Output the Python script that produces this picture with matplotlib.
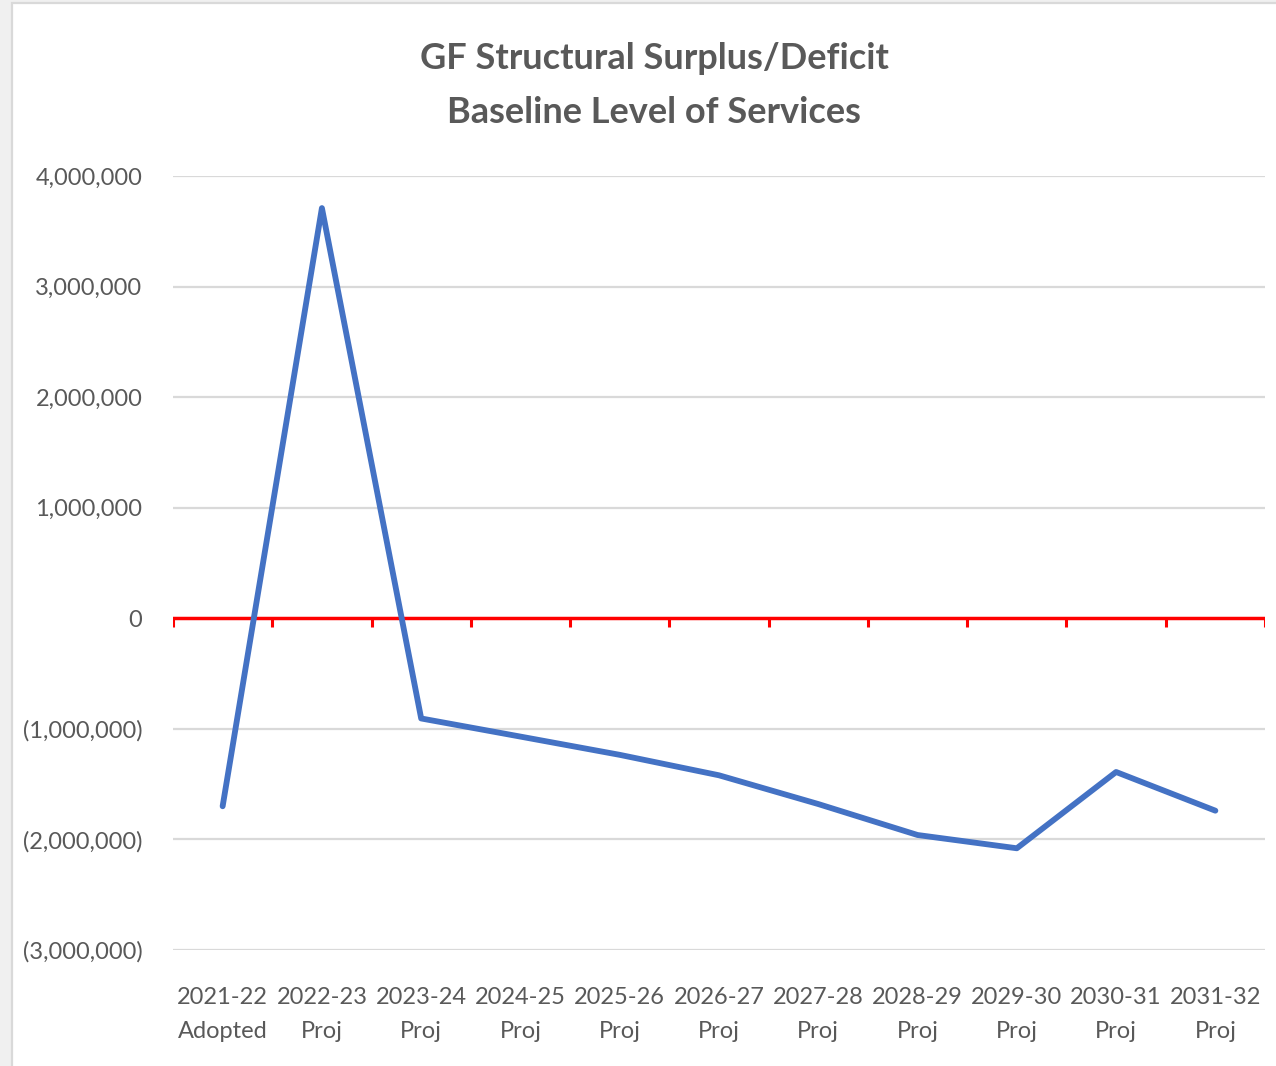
import matplotlib
matplotlib.use("Agg")
import matplotlib.pyplot as plt
from matplotlib import font_manager
from matplotlib.patches import Rectangle
from matplotlib.ticker import FuncFormatter

# 数据：结构性盈余/赤字（美元）
years = ["2021-22", "2022-23", "2023-24", "2024-25", "2025-26", "2026-27",
         "2027-28", "2028-29", "2029-30", "2030-31", "2031-32"]
stages = ["Adopted", "Proj", "Proj", "Proj", "Proj", "Proj",
          "Proj", "Proj", "Proj", "Proj", "Proj"]
surplus = [-1_700_000, 3_710_000, -906_000, -1_070_000, -1_235_000, -1_420_000,
           -1_680_000, -1_960_000, -2_080_000, -1_390_000, -1_740_000]
y_ticks = [-3_000_000, -2_000_000, -1_000_000, 0, 1_000_000, 2_000_000, 3_000_000, 4_000_000]

# 字体：优先用窄一点的人文无衬线体，接近 Calibri
available = {f.name for f in font_manager.fontManager.ttflist}
family = [f for f in ["Liberation Sans Narrow", "Lato", "Open Sans", "DejaVu Sans"] if f in available]
plt.rcParams["font.family"] = family

grey_text = "#595959"

fig = plt.figure(figsize=(12.76, 10.66), dpi=100)
fig.patch.set_facecolor("#f0f0f0")
# 白色图表区 + 浅灰边框（右侧/底部被截掉）
fig.patches.append(Rectangle((12 / 1276, -0.01), 1.02, 1 - 3 / 1066 + 0.01,
                             transform=fig.transFigure, facecolor="white",
                             edgecolor="#d9d9d9", linewidth=1.6, zorder=-5))

ax = fig.add_axes([173 / 1276, 1 - 950 / 1066, (1265 - 173) / 1276, (950 - 176) / 1066])
ax.set_facecolor("none")

x = list(range(len(years)))
ax.set_xlim(-0.5, len(years) - 0.5)
ax.set_ylim(min(y_ticks), max(y_ticks))

# 网格线
for v in y_ticks:
    if v != 0:
        ax.axhline(v, color="#d9d9d9", linewidth=1.6, zorder=1)

# 红色零轴及分类边界刻度
ax.axhline(0, color="#ff0000", linewidth=2.5, zorder=2)
bounds = [i - 0.5 for i in range(len(years) + 1)]
ax.vlines(bounds, -75_000, 0, color="#ff0000", linewidth=2.2, zorder=2)

ax.plot(x, surplus, color="#4472c4", linewidth=4.2, solid_joinstyle="round",
        solid_capstyle="round", zorder=3)

for s in ax.spines.values():
    s.set_visible(False)

ax.set_yticks(y_ticks)
ax.yaxis.set_major_formatter(FuncFormatter(
    lambda v, _: "0" if v == 0 else (f"{v:,.0f}" if v > 0 else f"({-v:,.0f})")))
ax.set_xticks(x)
ax.set_xticklabels([f"{a}\n{b}" for a, b in zip(years, stages)], linespacing=1.75)
ax.tick_params(axis="both", length=0, labelsize=17, colors=grey_text)
ax.tick_params(axis="y", pad=22)
ax.tick_params(axis="x", pad=27)

fig.text(654 / 1276, 1 - 85.5 / 1066, "GF Structural Surplus/Deficit\nBaseline Level of Services",
         ha="center", va="center", fontsize=26, fontweight="bold", color=grey_text,
         linespacing=1.78)

fig.savefig("out.png", dpi=100, facecolor=fig.get_facecolor())
